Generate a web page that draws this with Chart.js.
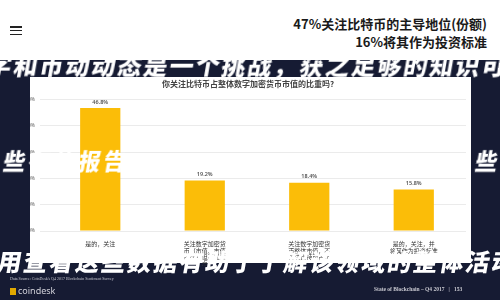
<!DOCTYPE html>
<html><head><meta charset="utf-8">
<script src="https://cdn.jsdelivr.net/npm/chart.js@4"></script>
<style>
html,body{margin:0;padding:0;}
body{width:500px;height:300px;overflow:hidden;background:#161b33;position:relative;font-family:"Noto Sans CJK SC","Noto Sans",sans-serif;}
#header{position:absolute;left:0;top:0;width:500px;height:60px;background:#fff;}
#burger{position:absolute;left:10px;top:26px;width:12px;}
#burger div{height:1.6px;background:#222;margin-bottom:2.2px;}
.hl{position:absolute;right:13px;font-size:13px;font-weight:700;color:#1a1a1a;white-space:nowrap;line-height:1;}
#panel{position:absolute;left:30px;top:77px;width:441px;height:186px;background:#fff;}
#cv{position:absolute;left:0;top:0;}
.brush{position:absolute;color:#fff;font-family:"Noto Sans CJK SC";font-weight:900;white-space:nowrap;transform:skewX(-10deg);line-height:1;z-index:5;}
.foot{position:absolute;color:#c8c8d0;white-space:nowrap;line-height:1;}
</style></head><body>
<div id="header">
  <div id="burger"><div></div><div></div><div></div></div>
  <div class="hl" style="top:17px">47%关注比特币的主导地位(份额)</div>
  <div class="hl" style="top:35px">16%将其作为投资标准</div>
</div>
<div id="panel"></div>
<canvas id="cv" width="500" height="300"></canvas>
<div class="brush" style="left:-12px;top:53px;font-size:24px;letter-spacing:2px">字和币动动态是一个挑战，获之足够的知识可能</div>
<div class="brush" style="left:4px;top:149px;font-size:22px;letter-spacing:3px">些有的报告</div>
<div class="brush" style="left:476px;top:149px;font-size:22px;letter-spacing:3px">些不</div>
<div class="brush" style="left:-2px;top:249px;font-size:24px;letter-spacing:2px">用查看这些数据有助于了解该领域的整体活动</div>
<div class="foot" style="left:10px;top:277px;font-size:4px;font-family:'Liberation Serif'">Data Source: CoinDesk's Q4 2017 Blockchain Sentiment Survey</div>
<div class="foot" style="left:10px;top:286px;font-size:9px;font-family:'Noto Sans';color:#d0d0d8"><span style="display:inline-block;width:6px;height:7px;background:#e0a800;margin-right:2px;vertical-align:-1px"></span>coindesk</div>
<div class="foot" style="left:374px;top:287px;font-size:5.5px;font-family:'Liberation Serif';font-weight:700">State of Blockchain – Q4 2017 &nbsp;&nbsp;|&nbsp;&nbsp; 153</div>
<script>
const categories = [
  ["是的，关注","","",""],
  ["关注数字加密货","币（市值、市值","占比）但不是重","点"],
  ["关注数字加密货","币整体市值，不","关注比特币占比",""],
  ["是的，关注，并","将其作为投资标准","",""]
];
const values = [46.8, 19.2, 18.4, 15.8];
const yTicks = [0, 10, 20, 30, 40, 50];
const chartTitle = "你关注比特币占整体数字加密货币市值的比重吗?";

const valueLabels = {
  id: 'valueLabels',
  afterDatasetsDraw(chart) {
    const ctx = chart.ctx;
    const meta = chart.getDatasetMeta(0);
    ctx.save();
    ctx.font = '600 5.5px "Noto Sans"';
    ctx.fillStyle = '#555';
    ctx.textAlign = 'center';
    ctx.textBaseline = 'bottom';
    meta.data.forEach((bar, i) => {
      ctx.fillText(values[i].toFixed(1) + '%', bar.x, bar.y - 3);
    });
    ctx.restore();
  }
};

new Chart(document.getElementById('cv'), {
  type: 'bar',
  data: {
    labels: categories,
    datasets: [{ data: values, backgroundColor: '#FBBD08', barPercentage: 0.385, categoryPercentage: 1 }]
  },
  options: {
    responsive: false,
    animation: false,
    layout: { padding: { left: 30, right: 34, top: 79, bottom: 33 } },
    plugins: {
      legend: { display: false },
      tooltip: { enabled: false },
      title: { display: true, text: chartTitle, color: '#444', font: { size: 8, family: '"Noto Sans CJK SC"' }, padding: { top: 0, bottom: 11 } }
    },
    scales: {
      x: {
        grid: { display: false },
        border: { display: false },
        ticks: { color: '#333', font: { size: 6, family: '"Noto Sans CJK SC"', lineHeight: 1.05 }, padding: 2, maxRotation: 0, autoSkip: false },
        afterFit(s) { s.height = 36; }
      },
      y: {
        min: 0, max: 50,
        afterBuildTicks(s) { s.ticks = yTicks.map(v => ({ value: v })); },
        grid: { color: '#e6e6e6', lineWidth: 0.8 },
        border: { display: false },
        ticks: { color: '#666', font: { size: 5, family: '"Noto Sans"' }, padding: 5, callback: v => v + '%' },
        afterFit(s) { s.width = 18; }
      }
    }
  },
  plugins: [valueLabels]
});
</script>
</body></html>
